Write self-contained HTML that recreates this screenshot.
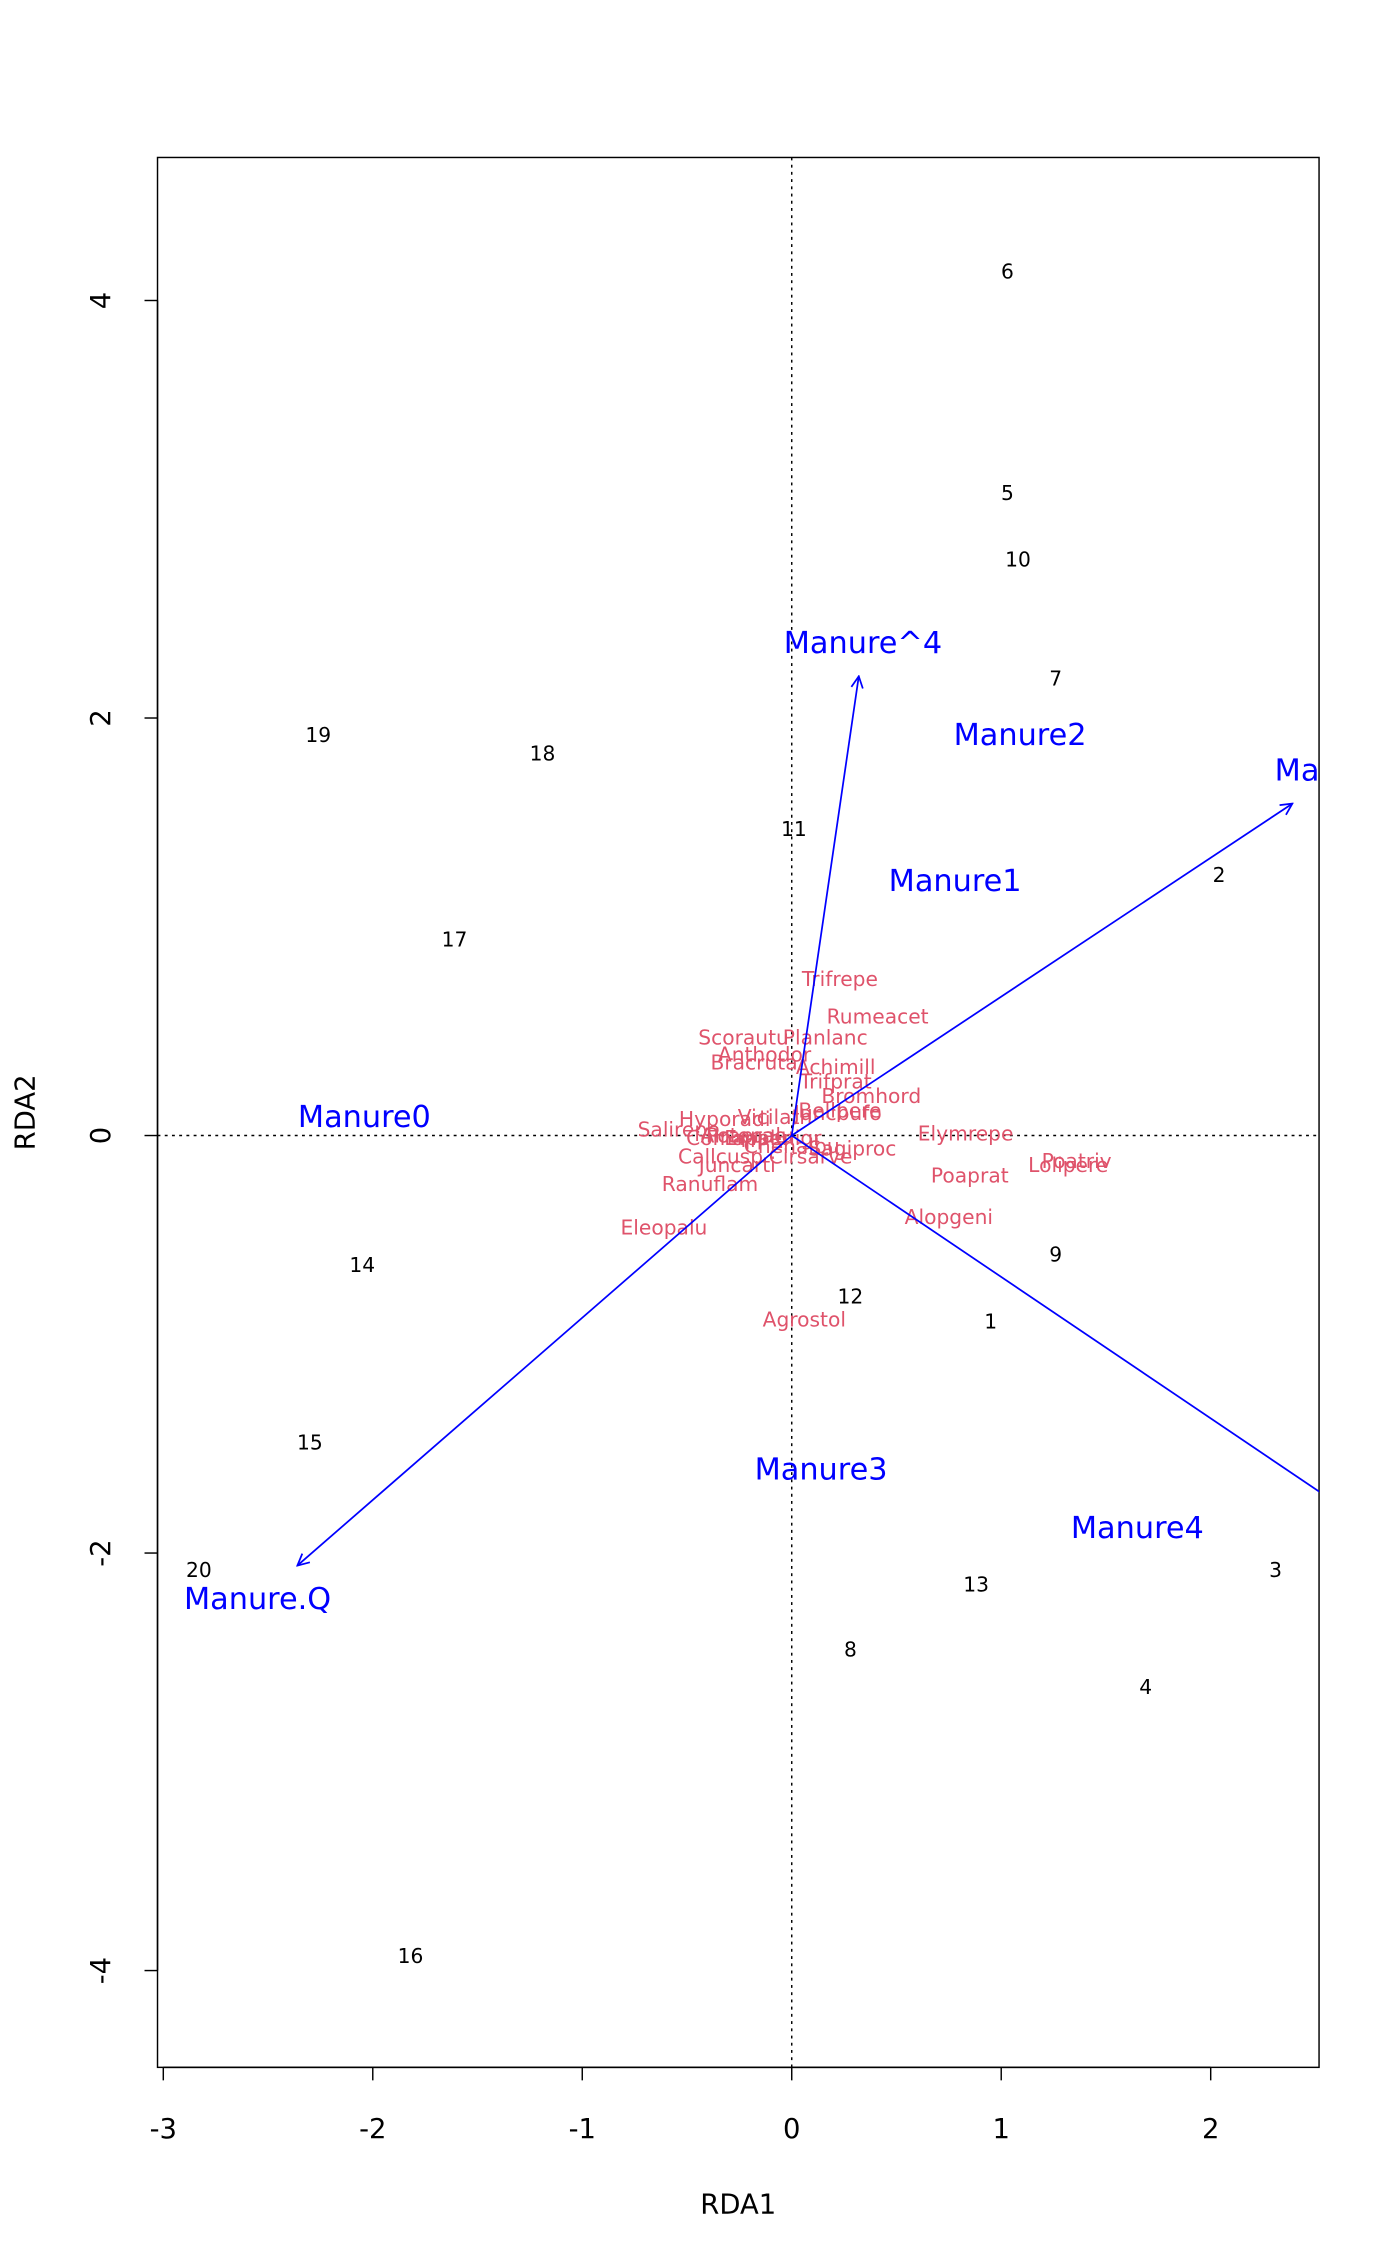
<!DOCTYPE html>
<html><head><meta charset="utf-8"><style>
html,body{margin:0;padding:0;background:#fff}
svg{display:block}
text{font-family:"DejaVu Sans","Liberation Sans",sans-serif}
</style></head><body>
<svg id="chart" width="1400" height="2266" viewBox="0 0 969 1568.5" xmlns="http://www.w3.org/2000/svg">
<defs><clipPath id="clip"><rect x="109" y="109" width="804" height="1322"/></clipPath>
<marker id="ah" markerWidth="10" markerHeight="10" refX="9" refY="5" orient="auto" markerUnits="userSpaceOnUse"><path d="M1,1 L9,5 L1,9" fill="none" stroke="#0000ff" stroke-width="1.2"/></marker></defs>
<rect x="109" y="109" width="804" height="1322" fill="none" stroke="#000" stroke-width="1"/>
<g id="axes"></g>
<g id="plot" clip-path="url(#clip)"></g>
<text x="511" y="1532" font-size="19" text-anchor="middle">RDA1</text>
<text x="24" y="770" font-size="19" text-anchor="middle" transform="rotate(-90 24 770)">RDA2</text>
</svg>
<script>
const xTicks=[-3,-2,-1,0,1,2];
const yTicks=[-4,-2,0,2,4];
const siteNames=["6","5","10","7","19","18","11","2","17","14","9","12","1","15","20","3","13","8","4","16"];
const siteX=[1.03,1.03,1.08,1.26,-2.26,-1.19,0.01,2.04,-1.61,-2.05,1.26,0.28,0.95,-2.30,-2.83,2.31,0.88,0.28,1.69,-1.82];
const siteY=[4.14,3.08,2.76,2.19,1.92,1.83,1.47,1.25,0.94,-0.62,-0.57,-0.77,-0.89,-1.47,-2.08,-2.08,-2.15,-2.46,-2.64,-3.93];
const spNames=["Trifrepe","Rumeacet","Scorautu","Planlanc","Anthodor","Bracruta","Achimill","Trifprat","Bromhord","Bellpere","Juncbufo","Vicilath","Hyporadi","Salirepe","Airaprae","Comapalu","Potepalu","Empenigr","Chenalbu","Sagiproc","Callcusp","Cirsarve","Juncarti","Ranuflam","Eleopalu","Elymrepe","Poaprat","Lolipere","Poatriv","Alopgeni","Agrostol"];
const spX=[0.23,0.41,-0.23,0.16,-0.13,-0.18,0.21,0.21,0.38,0.23,0.22,-0.08,-0.32,-0.54,-0.23,-0.26,-0.2,-0.09,0.0,0.29,-0.34,0.09,-0.26,-0.39,-0.61,0.83,0.85,1.32,1.36,0.75,0.06];
const spY=[0.75,0.57,0.47,0.47,0.39,0.35,0.33,0.26,0.19,0.12,0.11,0.09,0.08,0.03,0.0,-0.01,0.0,-0.01,-0.05,-0.06,-0.10,-0.10,-0.14,-0.23,-0.44,0.01,-0.19,-0.14,-0.12,-0.39,-0.88];
const arrowNames=["Manure^4","Manure.L","Manure.Q","Manure^3"];
const arrowX=[0.32,2.39,-2.36,3.1];
const arrowY=[2.20,1.59,-2.06,-2.1];
const arrowLabX=[0.34,2.64,-2.55,3.3];
const arrowLabY=[2.36,1.75,-2.22,-2.25];
const centNames=["Manure2","Manure1","Manure0","Manure3","Manure4"];
const centX=[1.09,0.78,-2.04,0.14,1.65];
const centY=[1.92,1.22,0.09,-1.60,-1.88];

const sx=v=>548+145*v, sy=v=>786-144.5*v;
const NS="http://www.w3.org/2000/svg";
const axes=document.getElementById('axes'), plot=document.getElementById('plot');
function mk(tag,attrs,parent,txt){const e=document.createElementNS(NS,tag);for(const k in attrs)e.setAttribute(k,attrs[k]);if(txt!==undefined)e.textContent=txt;parent.appendChild(e);return e;}
mk('line',{x1:sx(xTicks[0]),x2:sx(xTicks[xTicks.length-1]),y1:1431,y2:1431,stroke:'#000'},axes);
xTicks.forEach(t=>{
  const l=mk('line',{x1:sx(t),x2:sx(t),y1:1431,y2:1440,stroke:'#000'},axes);
  
  
  const tx=mk('text',{x:sx(t),y:1480,'font-size':19,'text-anchor':'middle'},axes,String(t));
  
  
});
mk('line',{x1:109,x2:109,y1:sy(yTicks[0]),y2:sy(yTicks[yTicks.length-1]),stroke:'#000'},axes);
yTicks.forEach(t=>{
  const l=mk('line',{x1:100,x2:109,y1:sy(t),y2:sy(t),stroke:'#000'},axes);
  
  
  const tx=mk('text',{x:76,y:sy(t),'font-size':19,'text-anchor':'middle',transform:`rotate(-90 76 ${sy(t)})`},axes,String(t));
  
  
});
const h=mk('line',{x1:109,x2:913,y1:sy(0),y2:sy(0),stroke:'#000','stroke-dasharray':'2,3'},plot);


const v=mk('line',{x1:sx(0),x2:sx(0),y1:109,y2:1431,stroke:'#000','stroke-dasharray':'2,3'},plot);


siteNames.forEach((n,i)=>{
  const t=mk('text',{x:sx(siteX[i]),y:sy(siteY[i])+5,'font-size':14,'text-anchor':'middle'},plot,n);
  
  
});
spNames.forEach((n,i)=>{
  const t=mk('text',{x:sx(spX[i]),y:sy(spY[i])+5,'font-size':14,'text-anchor':'middle',fill:'#df536b'},plot,n);
  
  
});
arrowNames.forEach((n,i)=>{
  const l=mk('line',{x1:sx(0),y1:sy(0),x2:sx(arrowX[i]),y2:sy(arrowY[i]),stroke:'#0000ff','stroke-width':1.2,'marker-end':'url(#ah)'},plot);
  
  
  const t=mk('text',{x:sx(arrowLabX[i]),y:sy(arrowLabY[i])+7,'font-size':21,'text-anchor':'middle',fill:'#0000ff'},plot,n);
  
  
});
centNames.forEach((n,i)=>{
  const t=mk('text',{x:sx(centX[i]),y:sy(centY[i])+7,'font-size':21,'text-anchor':'middle',fill:'#0000ff'},plot,n);
  
  
});
</script>
</body></html>
